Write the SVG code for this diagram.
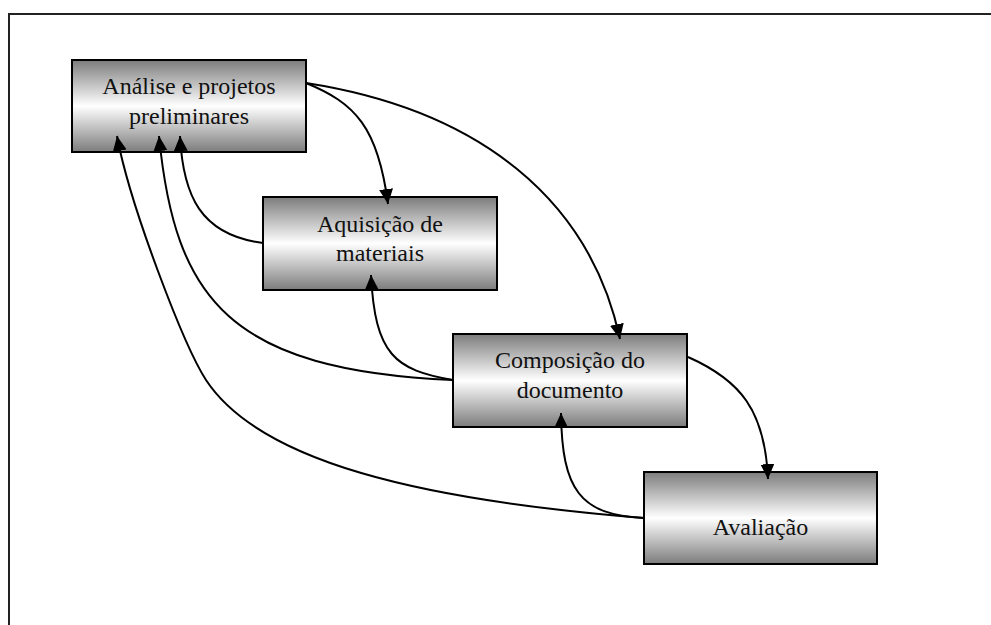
<svg xmlns="http://www.w3.org/2000/svg" width="991" height="625" viewBox="0 0 991 625">
  <style>
    .box { fill: url(#metal); stroke: #000; stroke-width: 2; }
    .label { font-family: "Liberation Serif", "Times New Roman", serif; font-size: 24px; fill: #111; text-anchor: middle; }
    .link { fill: none; stroke: #000; stroke-width: 2; marker-end: url(#arrow); }
  </style>
  <defs>
    <linearGradient id="metal" x1="0" y1="0" x2="0" y2="1">
      <stop offset="0" stop-color="#7c7c7c"/>
      <stop offset="0.5" stop-color="#ffffff"/>
      <stop offset="1" stop-color="#7c7c7c"/>
    </linearGradient>
    <marker id="arrow" markerUnits="userSpaceOnUse" markerWidth="16" markerHeight="16" viewBox="0 0 16 16" refX="15" refY="7" orient="auto">
      <path d="M0,0 L15,7 L0,14 z" fill="#000"/>
    </marker>
  </defs>

  <!-- outer frame -->
  <rect x="9" y="14" width="1000" height="700" fill="none" stroke="#222" stroke-width="2"/>

  <g id="analise">
    <rect class="box" x="72" y="60" width="234" height="92"/>
    <text class="label" x="189" y="94">Análise e projetos</text>
    <text class="label" x="189" y="123.5">preliminares</text>
  </g>

  <g id="aquisicao">
    <rect class="box" x="263" y="197" width="234" height="93"/>
    <text class="label" x="380" y="232">Aquisição de</text>
    <text class="label" x="380" y="261">materiais</text>
  </g>

  <g id="composicao">
    <rect class="box" x="453" y="334" width="234" height="93"/>
    <text class="label" x="570" y="368">Composição do</text>
    <text class="label" x="570" y="398">documento</text>
  </g>

  <g id="avaliacao">
    <rect class="box" x="644" y="472" width="233" height="92"/>
    <text class="label" x="760.5" y="535">Avaliação</text>
  </g>

  <!-- connectors: drawn last so the arrowheads sit over the box edges -->
  <g id="connectors">
    <path class="link" d="M306,83 C355,103 378,127 388,204"/>
    <path class="link" d="M306,83 C480,110 590,200 620,339"/>
    <path class="link" d="M263,243 C200,235 183,195 180,136"/>
    <path class="link" d="M453,380 C230,370 175,300 159,136"/>
    <path class="link" d="M453,380 C395,370 375,355 371,275"/>
    <path class="link" d="M688,357 C740,380 765,410 768,479"/>
    <path class="link" d="M644,518 C580,515 562,490 561,413"/>
    <path class="link" d="M644,518 C420,500 260,462 206,380 C184,346 130,206 117,136"/>
  </g>
</svg>
